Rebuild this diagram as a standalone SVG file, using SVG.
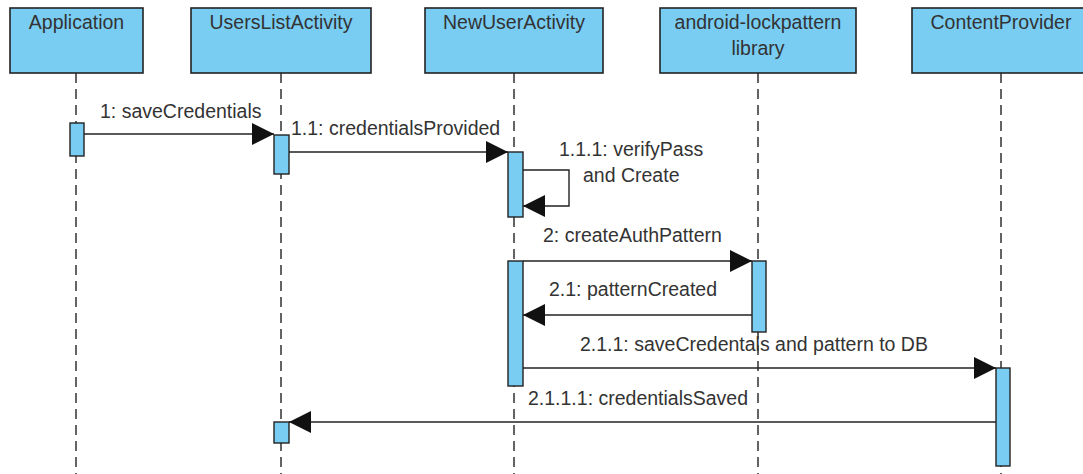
<svg xmlns="http://www.w3.org/2000/svg" width="1083" height="474" viewBox="0 0 1083 474">
  <style>
    .box{fill:#79CDF3;stroke:#222;stroke-width:1.6}
    .act{fill:#79CDF3;stroke:#222;stroke-width:1.4}
    .life{stroke:#222;stroke-width:1.4;stroke-dasharray:10 6;fill:none}
    .msg{stroke:#222;stroke-width:1.4;fill:none}
    .t{font-family:"Liberation Sans",Arial,sans-serif;font-size:19.5px;fill:#333}
    .title{text-anchor:middle}
  </style>
  <defs>
    <marker id="arr" markerUnits="userSpaceOnUse" markerWidth="24" markerHeight="24" refX="22" refY="11" orient="auto">
      <path d="M0,0 L22,11 L0,22 Z" fill="#111"/>
    </marker>
  </defs>
  <rect width="1083" height="474" fill="#fff"/>

  <g id="lifelines">
    <line class="life" x1="76" y1="73" x2="76" y2="474"/>
    <line class="life" x1="281" y1="73" x2="281" y2="474"/>
    <line class="life" x1="514" y1="73" x2="514" y2="474"/>
    <line class="life" x1="758" y1="73" x2="758" y2="474"/>
    <line class="life" x1="1001" y1="73" x2="1001" y2="474"/>
  </g>

  <g id="node-application">
    <rect class="box" x="10" y="8" width="133" height="65"/>
    <text class="t title" x="76.5" y="29">Application</text>
  </g>
  <g id="node-userslist">
    <rect class="box" x="191" y="8" width="180" height="65"/>
    <text class="t title" x="281" y="29">UsersListActivity</text>
  </g>
  <g id="node-newuser">
    <rect class="box" x="425" y="8" width="178" height="65"/>
    <text class="t title" x="514" y="29">NewUserActivity</text>
  </g>
  <g id="node-lockpattern">
    <rect class="box" x="660" y="8" width="196" height="65"/>
    <text class="t title" x="758" y="29">android-lockpattern</text>
    <text class="t title" x="758" y="55">library</text>
  </g>
  <g id="node-contentprovider">
    <rect class="box" x="912" y="8" width="178" height="65"/>
    <text class="t title" x="1001" y="29">ContentProvider</text>
  </g>

  <g id="activations">
    <rect class="act" x="70" y="123" width="14" height="33"/>
    <rect class="act" x="274" y="135" width="15" height="39"/>
    <rect class="act" x="508" y="152" width="15" height="65"/>
    <rect class="act" x="508" y="261" width="15" height="125"/>
    <rect class="act" x="752" y="261" width="14" height="71"/>
    <rect class="act" x="996" y="368" width="14" height="98"/>
    <rect class="act" x="274" y="422" width="15" height="21"/>
  </g>

  <g id="connectors">
    <line class="msg" x1="84" y1="134" x2="274" y2="134" marker-end="url(#arr)"/>
    <line class="msg" x1="289" y1="152" x2="508" y2="152" marker-end="url(#arr)"/>
    <polyline class="msg" points="523,170 569,170 569,206 523,206" marker-end="url(#arr)"/>
    <line class="msg" x1="523" y1="261" x2="752" y2="261" marker-end="url(#arr)"/>
    <line class="msg" x1="752" y1="315" x2="523" y2="315" marker-end="url(#arr)"/>
    <line class="msg" x1="523" y1="368" x2="996" y2="368" marker-end="url(#arr)"/>
    <line class="msg" x1="996" y1="422" x2="289" y2="422" marker-end="url(#arr)"/>
  </g>

  <g id="labels">
    <text class="t" x="100" y="118">1: saveCredentials</text>
    <text class="t" x="291" y="135">1.1: credentialsProvided</text>
    <text class="t" x="559" y="156">1.1.1: verifyPass</text>
    <text class="t" x="583" y="182">and Create</text>
    <text class="t" x="543" y="242">2: createAuthPattern</text>
    <text class="t" x="549" y="296">2.1: patternCreated</text>
    <text class="t" x="580" y="351">2.1.1: saveCredentals and pattern to DB</text>
    <text class="t" x="528" y="405">2.1.1.1: credentialsSaved</text>
  </g>
</svg>
